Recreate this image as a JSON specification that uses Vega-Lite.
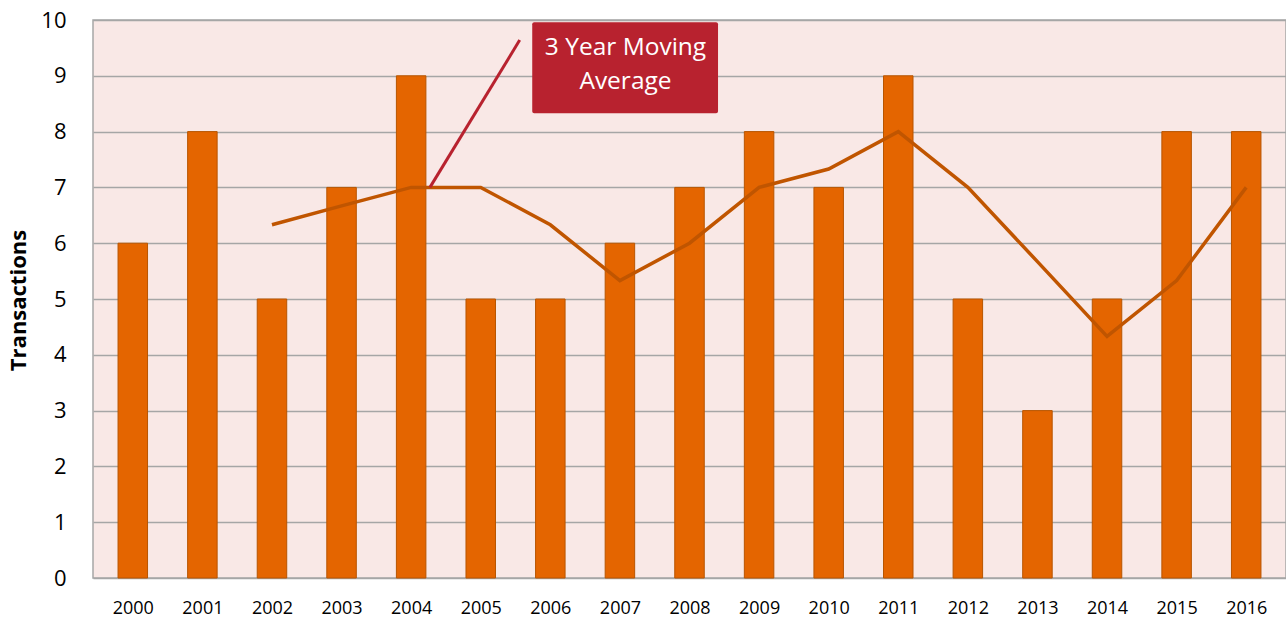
{
  "$schema": "https://vega.github.io/schema/vega-lite/v6.json",
  "width": 1193,
  "height": 558,
  "autosize": {"type": "none"},
  "padding": {"left": 93, "top": 20, "right": 0, "bottom": 43},
  "background": "white",
  "config": {
    "view": {"fill": "#F9E8E6", "stroke": "#A6A6A6", "strokeWidth": 1.5},
    "font": "Open Sans"
  },
  "datasets": {
    "main": [
      {"year": 2000, "transactions": 6, "ma": null},
      {"year": 2001, "transactions": 8, "ma": null},
      {"year": 2002, "transactions": 5, "ma": 6.33},
      {"year": 2003, "transactions": 7, "ma": 6.67},
      {"year": 2004, "transactions": 9, "ma": 7},
      {"year": 2005, "transactions": 5, "ma": 7},
      {"year": 2006, "transactions": 5, "ma": 6.33},
      {"year": 2007, "transactions": 6, "ma": 5.33},
      {"year": 2008, "transactions": 7, "ma": 6},
      {"year": 2009, "transactions": 8, "ma": 7},
      {"year": 2010, "transactions": 7, "ma": 7.33},
      {"year": 2011, "transactions": 9, "ma": 8},
      {"year": 2012, "transactions": 5, "ma": 7},
      {"year": 2013, "transactions": 3, "ma": 5.67},
      {"year": 2014, "transactions": 5, "ma": 4.33},
      {"year": 2015, "transactions": 8, "ma": 5.33},
      {"year": 2016, "transactions": 8, "ma": 7}
    ],
    "note": [{"line1": "3 Year Moving", "line2": "Average"}]
  },
  "layer": [
    {
      "data": {"name": "main"},
      "mark": {"type": "bar", "size": 29.5, "fill": "#E46500", "stroke": "#B85500", "strokeWidth": 1},
      "encoding": {
        "x": {
          "field": "year",
          "type": "quantitative",
          "scale": {"domain": [1999.5, 2016.5], "nice": false, "zero": false},
          "axis": {
            "title": null,
            "values": [2000, 2001, 2002, 2003, 2004, 2005, 2006, 2007, 2008, 2009, 2010, 2011, 2012, 2013, 2014, 2015, 2016],
            "format": "d",
            "grid": false,
            "ticks": false,
            "domain": false,
            "labelFontSize": 18,
            "labelColor": "#000000",
            "labelPadding": 21,
            "labelFlush": false
          }
        },
        "y": {
          "field": "transactions",
          "type": "quantitative",
          "scale": {"domain": [0, 10], "nice": false},
          "axis": {
            "title": "Transactions",
            "values": [0, 1, 2, 3, 4, 5, 6, 7, 8, 9, 10],
            "grid": true,
            "gridColor": "#A6A6A6",
            "gridWidth": 1.5,
            "ticks": false,
            "domain": false,
            "labelFontSize": 22,
            "labelColor": "#000000",
            "labelPadding": 27,
            "titleFontSize": 22,
            "titleFontWeight": "bold",
            "titleColor": "#000000",
            "titleX": -75,
            "titleY": 280,
            "titleAlign": "center",
            "titleBaseline": "middle",
            "titleAngle": -90
          }
        }
      }
    },
    {
      "data": {"name": "main"},
      "mark": {"type": "line", "stroke": "#C05500", "strokeWidth": 3.5},
      "encoding": {
        "x": {"field": "year", "type": "quantitative"},
        "y": {"field": "ma", "type": "quantitative"}
      }
    },
    {
      "data": {"name": "note"},
      "mark": {"type": "rule", "stroke": "#B8222F", "strokeWidth": 3},
      "encoding": {
        "x": {"datum": 2005.56, "type": "quantitative"},
        "x2": {"datum": 2004.27},
        "y": {"datum": 9.64, "type": "quantitative"},
        "y2": {"datum": 7.0}
      }
    },
    {
      "data": {"name": "note"},
      "mark": {"type": "rect", "fill": "#B8222F", "cornerRadius": 2},
      "encoding": {
        "x": {"datum": 2005.74, "type": "quantitative"},
        "x2": {"datum": 2008.41},
        "y": {"datum": 9.96, "type": "quantitative"},
        "y2": {"datum": 8.33}
      }
    },
    {
      "data": {"name": "note"},
      "mark": {"type": "text", "color": "white", "fontSize": 24.5, "align": "center", "baseline": "middle"},
      "encoding": {
        "x": {"datum": 2007.08, "type": "quantitative"},
        "y": {"datum": 9.5, "type": "quantitative"},
        "text": {"field": "line1"}
      }
    },
    {
      "data": {"name": "note"},
      "mark": {"type": "text", "color": "white", "fontSize": 24.5, "align": "center", "baseline": "middle"},
      "encoding": {
        "x": {"datum": 2007.08, "type": "quantitative"},
        "y": {"datum": 8.89, "type": "quantitative"},
        "text": {"field": "line2"}
      }
    }
  ]
}
